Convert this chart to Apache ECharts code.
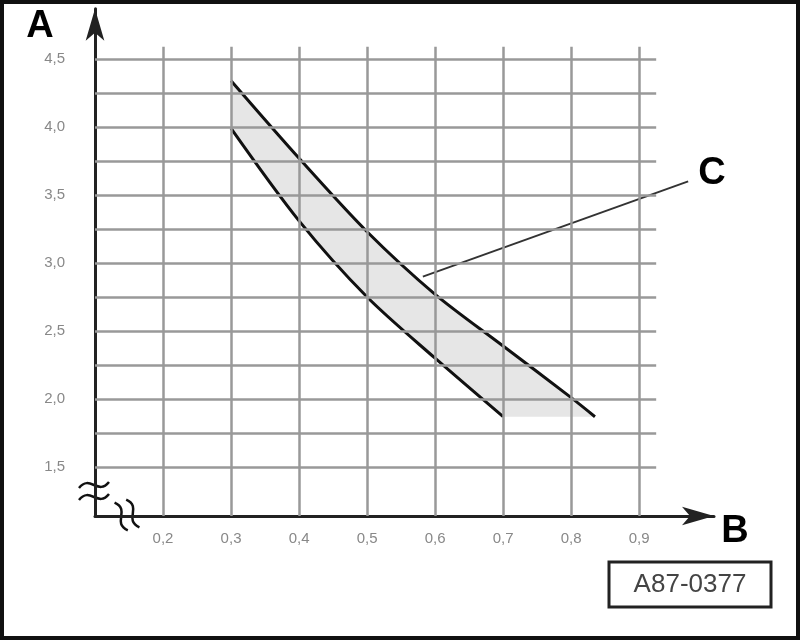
<!DOCTYPE html>
<html><head><meta charset="utf-8">
<script src="https://cdn.jsdelivr.net/npm/echarts@6/dist/echarts.min.js"></script>
<style>html,body{margin:0;padding:0;background:#fff}#c{width:800px;height:640px}</style>
</head><body><div id="c"></div>
<script>
// ---- data ----
const upperCurve = [[0.30, 4.34], [0.40, 3.77], [0.50, 3.23], [0.60, 2.77], [0.70, 2.39], [0.80, 2.01], [0.835, 1.87]];
const lowerCurve = [[0.30, 3.99], [0.40, 3.31], [0.50, 2.75], [0.60, 2.30], [0.70, 1.87]];
const leaderC = [[0.582, 2.90], [0.972, 3.60]];
const ticksB = [0.2, 0.3, 0.4, 0.5, 0.6, 0.7, 0.8, 0.9];
const ticksA = [1.5, 2.0, 2.5, 3.0, 3.5, 4.0, 4.5];
const gridLinesA = [1.5, 1.75, 2.0, 2.25, 2.5, 2.75, 3.0, 3.25, 3.5, 3.75, 4.0, 4.25, 4.5];
const gridLinesB = [0.2, 0.3, 0.4, 0.5, 0.6, 0.7, 0.8, 0.9];
const gridSpanB = [0.1, 0.925];
const gridSpanA = [1.14, 4.59];
const codeLabel = 'A87-0377';

const bandPolygon = upperCurve.concat(lowerCurve.slice().reverse());
const fmt = v => v.toFixed(1).replace('.', ',');

const hLines = gridLinesA.map(a => [{coord: [gridSpanB[0], a]}, {coord: [gridSpanB[1], a]}]);
const vLines = gridLinesB.map(b => [{coord: [b, gridSpanA[0]]}, {coord: [b, gridSpanA[1]]}]);

const chart = echarts.init(document.getElementById('c'), null, {renderer: 'canvas'});
const font = '"Liberation Sans", Arial, sans-serif';
function waveEl(dy) {
  return {type: 'bezierCurve', y: dy,
    shape: {x1: -15, y1: 3, x2: 15, y2: -3, cpx1: -4, cpy1: -11, cpx2: 4, cpy2: 11},
    style: {stroke: '#111', lineWidth: 2.5, fill: null}};
}
function breakMark(x, y, rot) {
  return {
    type: 'group', x: x, y: y, rotation: rot, z: 100,
    children: [
      {type: 'rect', shape: {x: -5, y: -6, width: 10, height: 12}, style: {fill: '#fff'}},
      waveEl(-6), waveEl(6)
    ]
  };
}

chart.setOption({
  animation: false,
  backgroundColor: '#fff',
  grid: {left: 95, top: 8.7, right: 86, bottom: 124, containLabel: false},
  xAxis: {
    type: 'value', min: 0.1, max: 1.01,
    axisLine: {show: true, onZero: false, lineStyle: {color: '#222', width: 3}, symbol: ['none', 'arrow'], symbolSize: [14, 32]},
    axisTick: {show: false},
    splitLine: {show: false},
    axisLabel: {customValues: ticksB, formatter: fmt, color: '#888', fontSize: 15, fontFamily: font, margin: 15}
  },
  yAxis: {
    type: 'value', min: 1.14, max: 4.87,
    axisLine: {show: true, onZero: false, lineStyle: {color: '#222', width: 3}, symbol: ['none', 'arrow'], symbolSize: [14, 32]},
    axisTick: {show: false},
    splitLine: {show: false},
    axisLabel: {customValues: ticksA, formatter: fmt, color: '#888', fontSize: 15, fontFamily: font, margin: 30}
  },
  series: [
    {
      type: 'custom', coordinateSystem: 'cartesian2d', z: 1, silent: true,
      data: [[0.5, 3.0]],
      renderItem: (params, api) => ({
        type: 'polygon',
        shape: {points: bandPolygon.map(p => api.coord(p))},
        style: {fill: '#e6e6e6'}
      })
    },
    {
      type: 'line', data: [], z: 2, silent: true,
      markLine: {
        silent: true, symbol: ['none', 'none'], label: {show: false},
        lineStyle: {color: '#999', width: 2.5, type: 'solid'},
        data: hLines.concat(vLines)
      }
    },
    {type: 'line', data: upperCurve, smooth: 0.3, showSymbol: false, z: 4, silent: true, lineStyle: {color: '#111', width: 3}},
    {type: 'line', data: lowerCurve, smooth: 0.3, showSymbol: false, z: 4, silent: true, lineStyle: {color: '#111', width: 3}},
    {type: 'line', data: leaderC, showSymbol: false, z: 3, silent: true, lineStyle: {color: '#333', width: 2}}
  ],
  graphic: [
    {type: 'rect', z: 100, shape: {x: 2, y: 2, width: 796, height: 636}, style: {fill: null, stroke: '#111', lineWidth: 4}},
    {type: 'text', z: 100, x: 40, y: 27, style: {text: 'A', font: 'bold 38px ' + font, fill: '#000', align: 'center', verticalAlign: 'middle'}},
    {type: 'text', z: 100, x: 735, y: 532, style: {text: 'B', font: 'bold 38px ' + font, fill: '#000', align: 'center', verticalAlign: 'middle'}},
    {type: 'text', z: 100, x: 712, y: 174, style: {text: 'C', font: 'bold 38px ' + font, fill: '#000', align: 'center', verticalAlign: 'middle'}},
    {type: 'rect', z: 100, shape: {x: 609, y: 562, width: 162, height: 45}, style: {fill: '#fff', stroke: '#222', lineWidth: 3}},
    {type: 'text', z: 101, x: 690, y: 585, style: {text: codeLabel, font: '26px ' + font, fill: '#444', align: 'center', verticalAlign: 'middle'}},
    breakMark(94, 491, 0),
    breakMark(127, 515, Math.PI / 2 + 0.25)
  ]
});
</script>
</body></html>
